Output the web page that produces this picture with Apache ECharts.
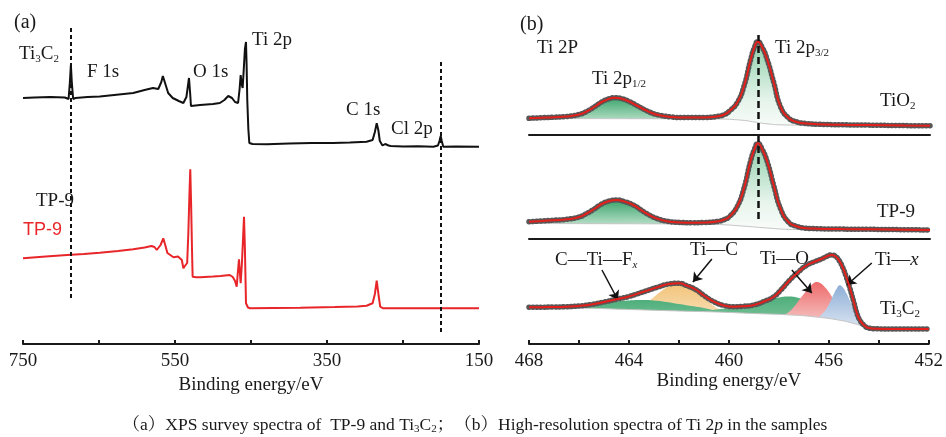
<!DOCTYPE html>
<html>
<head>
<meta charset="utf-8">
<script src="https://cdn.jsdelivr.net/npm/echarts@6/dist/echarts.min.js"></script>
<style>html,body{margin:0;padding:0;background:#fff}#c{width:946px;height:437px}</style>
</head>
<body>
<div id="c"></div>
<script>
// ---------- Panel (a): XPS survey spectra  [binding energy (eV), intensity (a.u.)] ----------
const ti3c2Survey = [[750,246],[735,246.5],[714,247],[695,246.5],[690,245],[688.3,262],[687,279],[685.8,262],[684,245],[681,246],[665,247],[649,247.5],[630,249],[605,251],[590,254],[579,256],[572,255],[568,262],[566,268],[563.5,262],[559,251],[553,246],[545,243],[539,241],[535,247],[533,258],[531.6,266],[530,250],[529,238],[517,239],[500,240],[491,241],[485,244],[480,248],[475,246],[471,242],[467,241],[465,255],[463.6,269],[462.3,260],[461,256],[459.5,275],[458,295],[456.6,302],[455.8,280],[454.9,244],[453.5,215],[452.2,201],[448,200],[429,199.7],[400,200.5],[370,201],[342,201],[320,201.5],[298,202.3],[290,204],[287,212],[284.6,220.7],[282.5,214],[280.5,203],[277,198.5],[273.5,200],[271.5,201.3],[269,198.5],[266,198],[250,197.5],[230,197.8],[210,197.3],[204,198.5],[202,203],[200.4,208],[199,203],[197,197.3],[180,197.5],[150,197.3]];
const tp9Survey = [[750,85.7],[720,87.5],[692,89],[670,90],[649,91.3],[625,93],[605,94.7],[590,96.5],[581,98],[577,97],[574,94],[569,99],[565.4,105.7],[562.5,98],[560,91],[552,86.7],[546,87.5],[544,88],[541,84],[539,75.7],[537,78],[534,81],[532.5,110],[531,150],[529.9,174.7],[528.8,140],[527.5,90],[526.8,67.3],[522,66.7],[517,66.7],[500,67.5],[490,68],[478,69],[474,67],[471,63],[468.8,57.3],[467.5,70],[465.8,84.7],[464.5,70],[463.6,60.7],[462,80],[460.5,105],[459.2,127.3],[458,95],[456.6,40.7],[454,36.5],[451.3,35.7],[420,36],[385,36.3],[340,37],[310,37.5],[298,38.3],[290,40.7],[287,50],[284.6,63.3],[282,48],[280,37.3],[276,35.7],[240,35.7],[200,35.7],[150,35.7]];
const surveyTickLabels = [750, 550, 350, 150];

// ---------- Panel (b): Ti 2p high-resolution spectra ----------
// TiO2
const tio2Data = [[468,16.7],[467.5,17.3],[467,17.8],[466.5,18.5],[466,20.5],[465.7,23.5],[465.4,28],[465.1,33],[464.8,36.3],[464.6,37.3],[464.3,36.3],[464,33.5],[463.7,29.5],[463.4,25.5],[463.1,22],[462.8,19.8],[462.3,18],[461.8,17.4],[461,17.5],[460.5,18.5],[460.2,20.5],[460,24],[459.7,32],[459.43,48],[459.16,75],[459,88],[458.87,93.3],[458.7,88],[458.49,75],[458.23,52],[457.96,28],[457.63,16.7],[457.3,13],[457.03,11.7],[456.5,10.8],[455.5,10.2],[454.5,9.9],[453,9.4],[452,9.2]];
const tio2Bg = [[468,16.5],[466,16.4],[464,16.3],[462,16.2],[460.5,16],[459.5,14.8],[459,13],[458.5,11.2],[458,10.2],[456,9.6],[452,9]];
const tio2P12 = [[467,17],[466.5,18],[466,20],[465.7,23],[465.4,27.5],[465.1,32.5],[464.8,35.8],[464.6,36.8],[464.3,35.8],[464,33],[463.7,29],[463.4,25],[463.1,21.5],[462.8,19.3],[462.3,17.5],[461.8,16.8],[461,16.3]];
const tio2P32 = [[461,16],[460.5,17.5],[460.2,19.5],[460,23],[459.7,31],[459.43,47],[459.16,74],[459,87],[458.87,92.3],[458.7,87],[458.49,74],[458.23,51],[457.96,27],[457.63,15.7],[457.3,12],[457,10.7],[456.5,9.9]];
// TP-9
const tp9Data = [[468,17.3],[467.5,18],[467,18.8],[466.5,19.7],[466,22],[465.7,25.5],[465.4,30],[465.1,35],[464.8,38],[464.5,39],[464.2,37.5],[463.8,33.5],[463.5,28.5],[463.2,24],[462.9,20.5],[462.5,17.8],[462,16.6],[461.5,16.3],[461,16.5],[460.5,17.5],[460.2,19.5],[460,22.5],[459.7,32],[459.43,50],[459.16,78],[459,90],[458.87,95.7],[458.7,90],[458.49,77],[458.23,53],[457.96,30],[457.63,16.5],[457.3,12.5],[457.03,11],[456.5,10.3],[455.5,9.9],[454.5,9.7],[453,9.3],[452,9]];
const tp9Bg = [[468,15.5],[465,15.3],[462,15],[460.5,14.5],[459.5,13],[458.5,11],[457.5,9.6],[455,9.2],[452,9]];
const tp9P12 = [[467,17],[466.5,18.8],[466,21],[465.7,24.5],[465.4,29],[465.1,34],[464.8,37],[464.5,38],[464.2,36.5],[463.8,32.5],[463.5,27.5],[463.2,23],[462.9,19.5],[462.5,17],[462,16],[461,15.5],[460,15],[459.5,14]];
const tp9P32 = [[460.5,16.5],[460.2,18.5],[460,21.5],[459.7,31],[459.43,49],[459.16,77],[459,89],[458.87,94.7],[458.7,89],[458.49,76],[458.23,52],[457.96,29],[457.63,15.5],[457.3,11.5],[457,10],[456.5,9.4]];
// Ti3C2
const ti3c2Data = [[468,36.7],[467.5,36.8],[467,37],[466.5,37.3],[466,38],[465.5,39.5],[465,42],[464.5,44.7],[464,47.5],[463.6,50.7],[463.2,54],[462.8,57.3],[462.4,60],[462,60.7],[461.7,58.5],[461.3,54],[461,48.5],[460.6,42.3],[460.2,38.5],[459.8,37.3],[459.4,37.8],[459,39],[458.6,42.5],[458.2,47.3],[457.9,54.5],[457.56,64],[457.2,72.5],[456.9,78.5],[456.6,82],[456.3,85],[456.05,88],[455.9,89],[455.75,88],[455.6,84],[455.45,77],[455.3,67],[455.16,56],[455,42],[454.88,31],[454.75,23.5],[454.6,19],[454.4,15.9],[454.1,15.2],[453.2,15],[452,15]];
const ti3c2Bg = [[468,36.5],[466,36],[464,34.5],[462,33],[460.5,32],[459,30.5],[457.5,29],[456.5,27],[455.5,23.5],[455,20.5],[454.5,17],[454.2,15.5],[452,15]];
const ctfA = [[466.5,36],[466,36.8],[465.5,38.5],[465,40.5],[464.5,42.5],[464,43.5],[463.5,44],[463,43.5],[462.5,42],[462,40],[461.5,38],[461,36],[460.5,33]];
const ctfB = [[461,33],[460.5,34.5],[460,36],[459.5,37.5],[459,39],[458.5,43],[458,46.5],[457.6,47.5],[457.2,46],[456.8,43],[456.4,38],[456,32],[455.5,26],[455,21]];
const tiC = [[463.6,35],[463.3,41],[463,47],[462.7,53],[462.4,57.5],[462.1,59.5],[461.9,59.5],[461.6,57],[461.3,52],[461,46],[460.7,40],[460.4,35],[460.1,33]];
const tiO = [[457.8,29],[457.6,32],[457.4,37],[457.2,43.5],[457,50],[456.8,56],[456.65,60],[456.5,62],[456.35,61],[456.2,58],[456,52],[455.8,44],[455.6,36],[455.4,29],[455.2,24]];
const tiX = [[456.5,25],[456.3,29],[456.1,35],[455.95,42],[455.8,50],[455.67,56],[455.56,58.7],[455.45,57],[455.3,51],[455.15,43],[455,35],[454.85,27],[454.7,21],[454.5,17.5],[454.3,16]];
const hrTickLabels = [468, 464, 460, 456, 452];

// ---------- rendering ----------
const SERIF = '"Liberation Serif","Times New Roman","Noto Serif CJK SC","Noto Sans CJK SC",serif';
const INK = '#1a1a1a';
const chart = echarts.init(document.getElementById('c'), null, {renderer: 'canvas'});

function grad(top, mid, midOff) {
  return {type: 'linear', x: 0, y: 0, x2: 0, y2: 1,
    colorStops: [{offset: 0, color: top}, {offset: midOff, color: mid}, {offset: 1, color: '#ffffff'}]};
}
function comp(data, gi, color) {
  return {type: 'line', xAxisIndex: gi, yAxisIndex: gi, data, showSymbol: false, smooth: 0.5,
    lineStyle: {width: 0, opacity: 0}, areaStyle: {color, opacity: 1}, z: 2, silent: true};
}
function bgLine(data, gi) {
  return {type: 'line', xAxisIndex: gi, yAxisIndex: gi, data, showSymbol: false, smooth: 0.5,
    lineStyle: {color: '#c4c4c4', width: 1}, areaStyle: {color: '#ffffff', opacity: 1}, z: 3, silent: true};
}
function dots(data, gi) {
  return {type: 'line', xAxisIndex: gi, yAxisIndex: gi, data, showSymbol: false, smooth: 0.5,
    lineStyle: {color: '#575757', width: 5.5, type: [0.5, 3.3], cap: 'round'}, z: 4, silent: true};
}
function fit(data, gi, markLine) {
  const s = {type: 'line', xAxisIndex: gi, yAxisIndex: gi, data, showSymbol: false, smooth: 0.5,
    lineStyle: {color: '#e3201b', width: 2}, z: 5, silent: true};
  if (markLine) s.markLine = markLine;
  return s;
}
const dashStyle = {color: '#111', width: 2.5, type: [7, 4]};
function vline(x, y1, y2, style) {
  return {silent: true, symbol: 'none', label: {show: false}, lineStyle: style, animation: false,
    data: [[{coord: [x, y1]}, {coord: [x, y2]}]]};
}
function arrows(list) {
  return {silent: true, symbol: ['none', 'arrow'], symbolSize: 9, label: {show: false}, animation: false,
    lineStyle: {color: '#111', width: 1.5, type: 'solid'},
    data: list.map(a => [{coord: a[0]}, {coord: a[1]}])};
}

function txt(x, y, text, size, align) {
  const rich = {
    m: {fontFamily: SERIF, fontSize: size, fill: INK, lineHeight: size + 2},
    s: {fontFamily: SERIF, fontSize: Math.round(size * 0.6), fill: INK, verticalAlign: 'bottom', lineHeight: Math.round(size * 0.5)},
    i: {fontFamily: SERIF, fontSize: size, fill: INK, fontStyle: 'italic', lineHeight: size + 2},
    si: {fontFamily: SERIF, fontSize: Math.round(size * 0.6), fill: INK, fontStyle: 'italic', verticalAlign: 'bottom', lineHeight: Math.round(size * 0.5)}
  };
  return {type: 'text', x, y, silent: true, z: 100,
    style: {text, rich, textVerticalAlign: 'middle', textAlign: align || 'left', fill: INK}};
}

const hrAxisBase = {type: 'value', min: 452, max: 468, inverse: true, splitLine: {show: false}, z: 10};

const option = {
  animation: false,
  backgroundColor: '#ffffff',
  grid: [
    {left: 23, width: 456, top: 0, height: 344},
    {left: 529, width: 401, top: 0, height: 135},
    {left: 529, width: 401, top: 135, height: 104},
    {left: 529, width: 401, top: 239, height: 105}
  ],
  xAxis: [
    {gridIndex: 0, type: 'value', min: 150, max: 750, interval: 100, inverse: true, z: 10,
      axisLine: {onZero: false, lineStyle: {color: INK, width: 2}},
      axisTick: {inside: true, length: 4, lineStyle: {color: INK, width: 2}},
      axisLabel: {margin: 8, fontFamily: SERIF, fontSize: 19, color: INK,
        formatter: v => surveyTickLabels.indexOf(v) >= 0 ? String(v) : ''},
      splitLine: {show: false},
      name: 'Binding energy/eV', nameLocation: 'middle', nameGap: 28,
      nameTextStyle: {fontFamily: SERIF, fontSize: 19, color: INK}},
    Object.assign({gridIndex: 1, axisLine: {onZero: false, lineStyle: {color: INK, width: 2}}, axisTick: {show: false}, axisLabel: {show: false}}, hrAxisBase),
    Object.assign({gridIndex: 2, axisLine: {onZero: false, lineStyle: {color: INK, width: 2}}, axisTick: {show: false}, axisLabel: {show: false}}, hrAxisBase),
    Object.assign({gridIndex: 3, interval: 2,
      axisLine: {onZero: false, lineStyle: {color: INK, width: 2}},
      axisTick: {inside: true, length: 4, lineStyle: {color: INK, width: 2}},
      axisLabel: {margin: 8, fontFamily: SERIF, fontSize: 19, color: INK,
        formatter: v => hrTickLabels.indexOf(v) >= 0 ? String(v) : ''},
      name: 'Binding energy/eV', nameLocation: 'middle', nameGap: 28,
      nameTextStyle: {fontFamily: SERIF, fontSize: 19, color: INK}}, hrAxisBase)
  ],
  yAxis: [
    {gridIndex: 0, type: 'value', min: 0, max: 344, show: false},
    {gridIndex: 1, type: 'value', min: 0, max: 135, show: false},
    {gridIndex: 2, type: 'value', min: 0, max: 104, show: false},
    {gridIndex: 3, type: 'value', min: 0, max: 105, show: false}
  ],
  series: [
    // panel (a)
    {type: 'line', xAxisIndex: 0, yAxisIndex: 0, data: ti3c2Survey, showSymbol: false, silent: true,
      lineStyle: {color: '#111', width: 2}, z: 3,
      markLine: {silent: true, symbol: 'none', label: {show: false}, animation: false,
        lineStyle: {color: '#111', width: 2, type: [4, 3]},
        data: [[{coord: [687, 316]}, {coord: [687, 44]}], [{coord: [200.4, 282]}, {coord: [200.4, 11]}]]}},
    {type: 'line', xAxisIndex: 0, yAxisIndex: 0, data: tp9Survey, showSymbol: false, silent: true,
      lineStyle: {color: '#e8262a', width: 2}, z: 3},
    // TiO2
    comp(tio2P12, 1, grad('#3fa66f', '#a9d9bd', 0.55)),
    comp(tio2P32, 1, grad('#8fcfaa', '#e3f3e9', 0.6)),
    bgLine(tio2Bg, 1), dots(tio2Data, 1),
    fit(tio2Data, 1, vline(458.87, 100, 0, dashStyle)),
    // TP-9
    comp(tp9P12, 2, grad('#3fa66f', '#b2ddc4', 0.6)),
    comp(tp9P32, 2, grad('#8fcfaa', '#e6f4eb', 0.6)),
    bgLine(tp9Bg, 2), dots(tp9Data, 2),
    fit(tp9Data, 2, vline(458.87, 104, 17, dashStyle)),
    // Ti3C2
    comp(tiC, 3, grad('#f2c47a', '#f8e2bd', 0.6)),
    comp(ctfA, 3, grad('#4fae7c', '#8fcca6', 0.8)),
    comp(ctfB, 3, grad('#4fae7c', '#8fcca6', 0.8)),
    comp(tiO, 3, grad('#ee6b6b', '#f6c9c9', 0.7)),
    comp(tiX, 3, grad('#8eafd6', '#dde7f3', 0.75)),
    bgLine(ti3c2Bg, 3), dots(ti3c2Data, 3),
    fit(ti3c2Data, 3, arrows([
      [[465.08, 74], [464.44, 44]],
      [[460.68, 85], [461.44, 62]],
      [[457.48, 74], [456.68, 51]],
      [[454.28, 81], [455.28, 59]]
    ]))
  ],
  graphic: [
    txt(14, 23, '{m|(a)}', 20),
    txt(19, 54, '{m|Ti}{s|3}{m|C}{s|2}', 19),
    txt(87, 72, '{m|F 1s}', 19),
    txt(193, 72, '{m|O 1s}', 19),
    txt(252, 40, '{m|Ti 2p}', 19),
    txt(346, 110, '{m|C 1s}', 19),
    txt(391, 129, '{m|Cl 2p}', 19),
    txt(36, 201, '{m|TP-9}', 19),
    {type: 'text', x: 23, y: 230, silent: true, z: 100,
      style: {text: 'TP-9', fontFamily: '"Liberation Sans",Arial,sans-serif', fontSize: 18, fill: '#e8262a', textVerticalAlign: 'middle'}},
    txt(520, 25, '{m|(b)}', 20),
    txt(537, 48, '{m|Ti 2P}', 19),
    txt(592, 79, '{m|Ti 2p}{s|1/2}', 19),
    txt(775, 48, '{m|Ti 2p}{s|3/2}', 19),
    txt(880, 101, '{m|TiO}{s|2}', 19),
    txt(877, 212, '{m|TP-9}', 19),
    txt(555, 260, '{m|C—Ti—F}{si|x}', 19),
    txt(690, 250, '{m|Ti—C}', 19),
    txt(760, 259, '{m|Ti—O}', 19),
    txt(875, 260, '{m|Ti—}{i|x}', 19),
    txt(880, 309, '{m|Ti}{s|3}{m|C}{s|2}', 19),
    txt(475, 425, '{m|（a）XPS survey spectra of  TP-9 and Ti}{s|3}{m|C}{s|2}{m|；（b）High-resolution spectra of Ti 2}{i|p}{m| in the samples}', 17.5, 'center')
  ]
};
chart.setOption(option);
</script>
</body>
</html>
